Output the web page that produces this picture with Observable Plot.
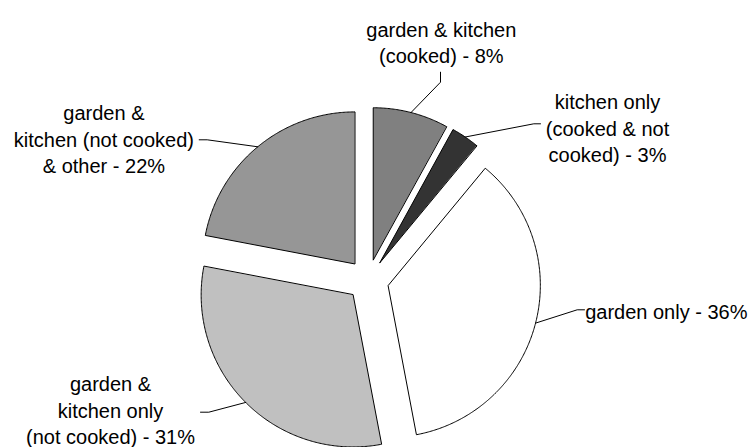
<!DOCTYPE html>
<html>
<head>
<meta charset="utf-8">
<script src="https://cdn.jsdelivr.net/npm/d3@7"></script>
<script src="https://cdn.jsdelivr.net/npm/@observablehq/plot@0.6"></script>
<style>
  html, body { margin: 0; padding: 0; background: #fff; }
  #chart svg { display: block; }
</style>
</head>
<body>
<div id="chart"></div>
<script>
// ---- data ----
const categories = [
  "garden & kitchen (cooked)",
  "kitchen only (cooked & not cooked)",
  "garden only",
  "garden & kitchen only (not cooked)",
  "garden & kitchen (not cooked) & other"
];
const shares = [8, 3, 36, 31, 22];
const labelLines = [
  ["garden & kitchen", "(cooked) - 8%"],
  ["kitchen only", "(cooked & not", "cooked) - 3%"],
  ["garden only - 36%"],
  ["garden &", "kitchen only", "(not cooked) - 31%"],
  ["garden &", "kitchen (not cooked)", "& other - 22%"]
];
const fills = ["#808080", "#333333", "#ffffff", "#c0c0c0", "#969696"];

// ---- layout (pixels) ----
const W = 751, H = 447;
const CX = 367.5, CY = 279.6, R = 152, EXPLODE = 21;
// label block centres and leader attach/elbow points, in pixels
const labelPos = [[440.8, 40.8], [607, 126.5], [665.8, 309.8], [110, 408.6], [103.4, 137.5]];
const leaderAttach = [[440, 71.7], [540, 123.3], [584, 309.3], [200, 411.7], [198.7, 139.3]];
const leaderElbow = [[440, 81.7], [533.3, 123.3], [576.7, 309.3], [208.3, 411.7], [206.7, 139.3]];

// unit coordinates: radius = 1, centre = 0, y up
const ux = px => (px - CX) / R;
const uy = py => (CY - py) / R;
const d = EXPLODE / R;

const pie = d3.pie().sort(null).value(v => v)(shares);
const slicePolys = pie.map((p, i) => {
  const mid = (p.startAngle + p.endAngle) / 2;
  const ox = d * Math.sin(mid), oy = d * Math.cos(mid);
  const pts = [{x: ox, y: oy}];
  const n = Math.max(4, Math.ceil((p.endAngle - p.startAngle) / (Math.PI / 360)));
  for (let k = 0; k <= n; k++) {
    const a = p.startAngle + (p.endAngle - p.startAngle) * k / n;
    pts.push({x: ox + Math.sin(a), y: oy + Math.cos(a)});
  }
  return {pts, fill: fills[i], mid, ox, oy};
});

const leaders = slicePolys.map((s, i) => [
  {x: ux(leaderAttach[i][0]), y: uy(leaderAttach[i][1])},
  {x: ux(leaderElbow[i][0]), y: uy(leaderElbow[i][1])},
  {x: s.ox + Math.sin(s.mid), y: s.oy + Math.cos(s.mid)}
]);

const labels = categories.map((c, i) => ({
  name: c,
  text: labelLines[i].join("\n"),
  x: ux(labelPos[i][0]),
  y: uy(labelPos[i][1])
}));

const chart = Plot.plot({
  width: W,
  height: H,
  margin: 0,
  style: {background: "#fff", fontFamily: "'Liberation Sans', Arial, sans-serif"},
  x: {domain: [ux(0), ux(W)], range: [0, W], axis: null},
  y: {domain: [uy(H), uy(0)], range: [H, 0], axis: null},
  marks: [
    ...slicePolys.map(s => Plot.line(s.pts, {
      x: "x", y: "y", fill: s.fill, stroke: "#000", strokeWidth: 1, curve: "linear-closed"
    })),
    ...leaders.map(l => Plot.line(l, {x: "x", y: "y", stroke: "#000", strokeWidth: 1})),
    Plot.text(labels, {
      x: "x", y: "y", text: "text", fontSize: 20, lineHeight: 1.33,
      textAnchor: "middle", fill: "#000"
    })
  ]
});
document.getElementById("chart").append(chart);
</script>
</body>
</html>
